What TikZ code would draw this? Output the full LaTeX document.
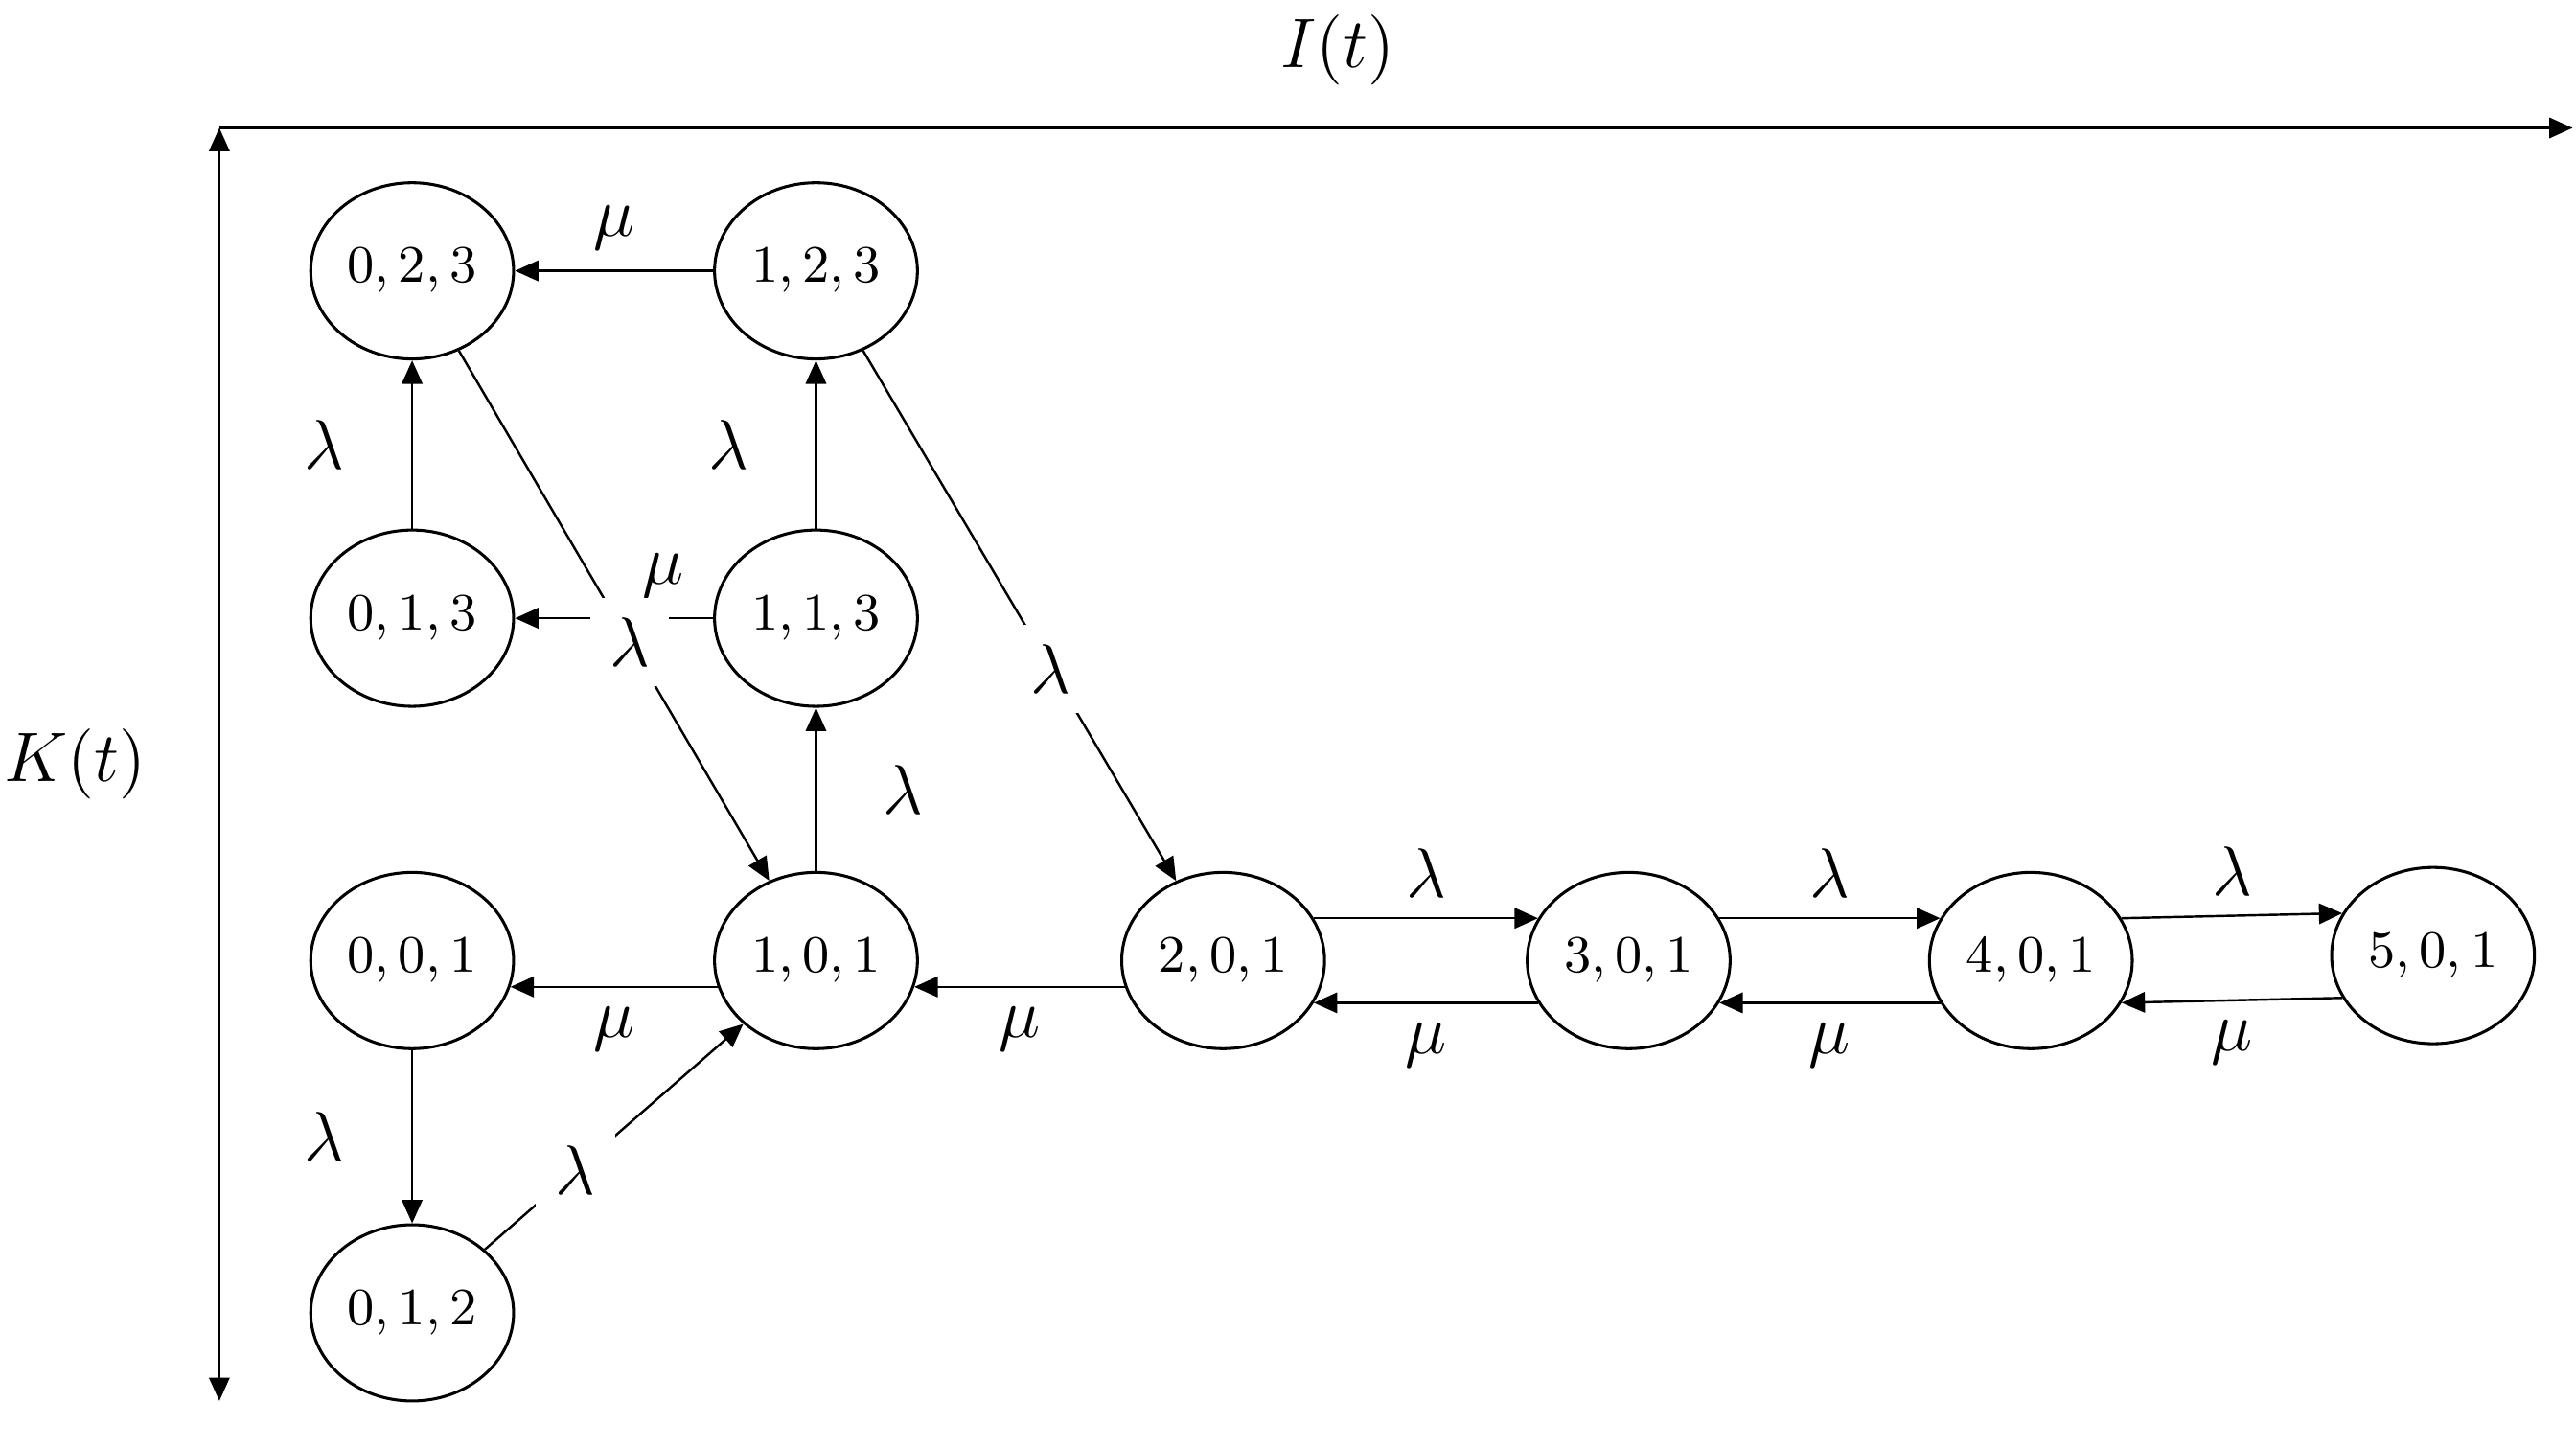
\documentclass[tikz,border=0pt]{standalone}
\usetikzlibrary{arrows.meta,shapes.geometric}
\begin{document}
\begin{tikzpicture}[x=0.01cm,y=-0.01cm,
 st/.style={draw,ellipse,minimum width=1.22cm,minimum height=1.06cm,inner sep=0pt,font=\fontsize{9}{10}\selectfont,line width=0.5pt},
 ar/.style={-{Triangle[length=4pt,width=3.5pt]},line width=0.4pt},
 lb/.style={font=\fontsize{12}{14}\selectfont}]
\useasboundingbox (0,0) rectangle (1550,871);
\node[st] (a023) at (248,163) {$0,2,3$};
\node[st] (a123) at (491,163) {$1,2,3$};
\node[st] (a013) at (248,372) {$0,1,3$};
\node[st] (a113) at (491,372) {$1,1,3$};
\node[st] (a001) at (248,578) {$0,0,1$};
\node[st] (a101) at (491,578) {$1,0,1$};
\node[st] (a201) at (736,578) {$2,0,1$};
\node[st] (a301) at (980,578) {$3,0,1$};
\node[st] (a401) at (1222,578) {$4,0,1$};
\node[st] (a501) at (1464,575) {$5,0,1$};
\node[st] (a012) at (248,790) {$0,1,2$};
\coordinate (o) at (132,77); \coordinate (xe) at (1548,77); \coordinate (ye) at (132,843);
\draw[ar] (o) -- (xe);
\draw[{Triangle[length=4pt,width=3.5pt]}-{Triangle[length=4pt,width=3.5pt]},line width=0.4pt] (o) -- (ye);
\node[lb] (it) at (805,30) {$I(t)$};
\node[lb] (kt) at (45,460) {$K(t)$};
\draw[ar] (a123) -- node[lb,above]{$\mu$} (a023);
\draw[ar] (a113) -- node[lb,above,pos=0.25]{$\mu$} (a013);
\draw[ar] (a013) -- node[lb,left=8pt]{$\lambda$} (a023);
\draw[ar] (a113) -- node[lb,left=8pt]{$\lambda$} (a123);
\draw[ar] (a101) -- node[lb,right=8pt]{$\lambda$} (a113);
\draw[ar] (a023) -- node[lb,fill=white,pos=0.55]{$\lambda$} (a101);
\draw[ar] (a123) -- node[lb,fill=white,pos=0.6]{$\lambda$} (a201);
\draw[ar] (a101.-165) -- node[lb,below]{$\mu$} (a001.-15);
\draw[ar] (a201.-165) -- node[lb,below]{$\mu$} (a101.-15);
\draw[ar] (a001) -- node[lb,left=8pt]{$\lambda$} (a012);
\draw[ar] (a012) -- node[lb,fill=white,pos=0.35]{$\lambda$} (a101);
\foreach \p/\q in {a201/a301,a301/a401,a401/a501}{
 \draw[ar] (\p.25) -- node[lb,above]{$\lambda$} (\q.155);
 \draw[ar] (\q.-155) -- node[lb,below]{$\mu$} (\p.-25);
}
\end{tikzpicture}
\end{document}
